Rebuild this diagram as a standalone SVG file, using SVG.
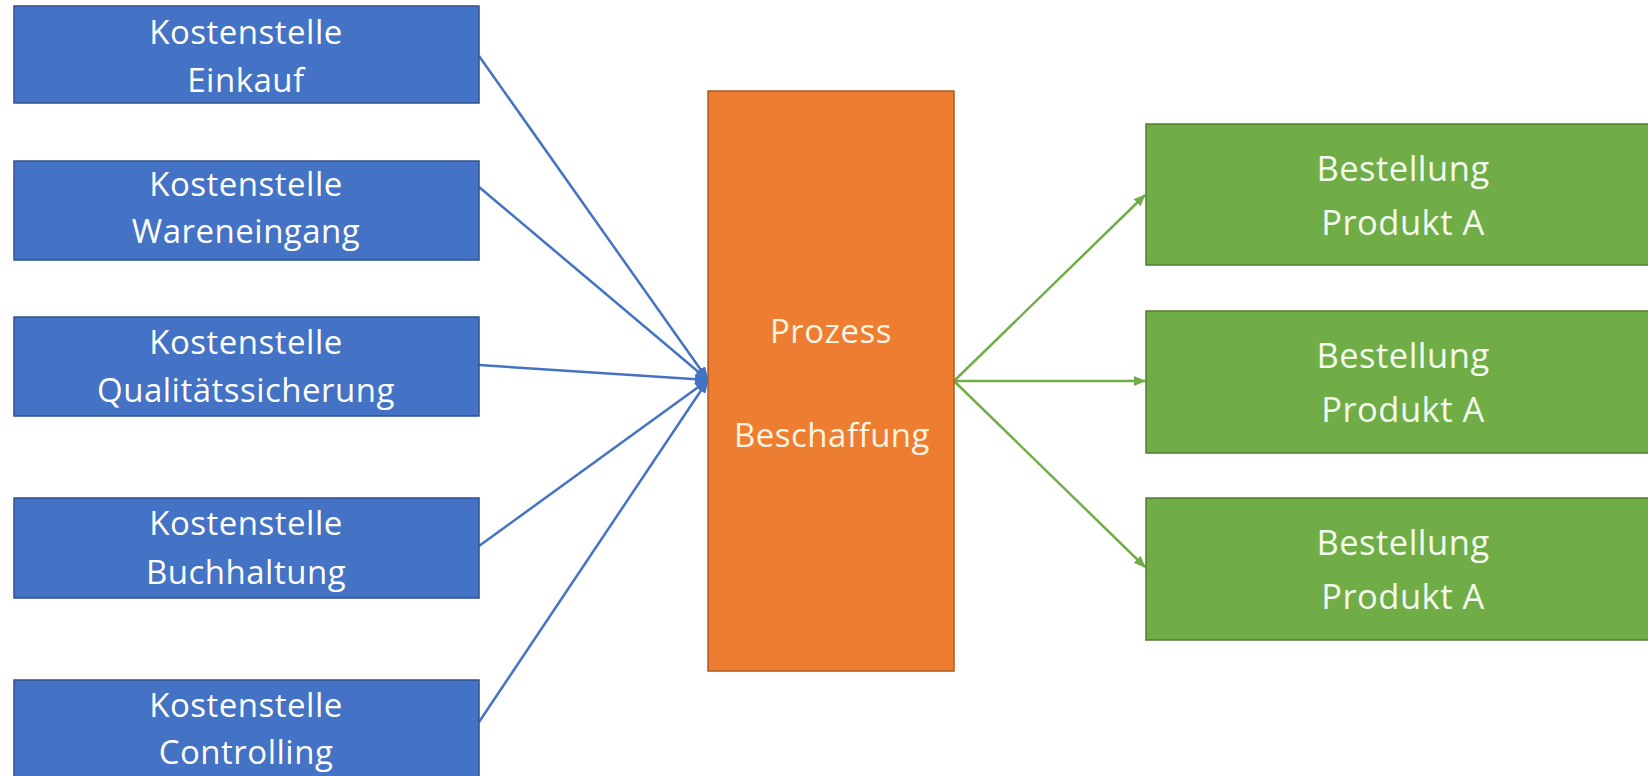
<svg xmlns="http://www.w3.org/2000/svg" width="1648" height="776" viewBox="0 0 1648 776">
  <defs>
    <marker id="arrBlue" viewBox="0 0 14 11" refX="13" refY="5.5" markerWidth="14" markerHeight="11" markerUnits="userSpaceOnUse" orient="auto">
      <path d="M0,0 L14,5.5 L0,11 Z" fill="#4472C4"/>
    </marker>
    <marker id="arrGreen" viewBox="0 0 12 10" refX="11" refY="5" markerWidth="12" markerHeight="10" markerUnits="userSpaceOnUse" orient="auto">
      <path d="M0,0 L12,5 L0,10 Z" fill="#70AD47"/>
    </marker>
  </defs>
  <style>
    .blue { fill: #4472C4; stroke: #2F528F; stroke-width: 1.5; }
    .orange { fill: #ED7D31; stroke: #AE5A21; stroke-width: 1.5; }
    .green { fill: #70AD47; stroke: #507E32; stroke-width: 1.5; }
    .t { font-family: "Open Sans", "Noto Sans", "Liberation Sans", sans-serif; font-size: 33px; letter-spacing: 0.5px; text-anchor: middle; }
    .tg { font-size: 34.5px; fill: #F3FBEE; }
    .tb { fill: #FFFFFF; }
    .to { fill: #FFF3E2; }
    .cb { stroke: #4472C4; stroke-width: 2.5; fill: none; marker-end: url(#arrBlue); }
    .cg { stroke: #70AD47; stroke-width: 2.5; fill: none; marker-end: url(#arrGreen); }
  </style>
  <rect x="0" y="0" width="1648" height="776" fill="#FFFFFF"/>

  <g id="connectors">
    <path class="cb" d="M479,56 L708,380"/>
    <path class="cb" d="M479,187 L708,380"/>
    <path class="cb" d="M479,365 L708,380"/>
    <path class="cb" d="M479,546 L708,380"/>
    <path class="cb" d="M479,722 L708,380"/>
    <path class="cg" d="M954,381 L1145,195"/>
    <path class="cg" d="M954,381 L1145,381"/>
    <path class="cg" d="M954,381 L1145,567"/>
  </g>

  <g id="ks-einkauf">
    <rect class="blue" x="14" y="6" width="465" height="97"/>
    <text class="t tb" x="246" y="44">Kostenstelle</text>
    <text class="t tb" x="246" y="92">Einkauf</text>
  </g>
  <g id="ks-wareneingang">
    <rect class="blue" x="14" y="161" width="465" height="99"/>
    <text class="t tb" x="246" y="196">Kostenstelle</text>
    <text class="t tb" x="246" y="243">Wareneingang</text>
  </g>
  <g id="ks-qualitaet">
    <rect class="blue" x="14" y="317" width="465" height="99"/>
    <text class="t tb" x="246" y="354">Kostenstelle</text>
    <text class="t tb" x="246" y="402">Qualitätssicherung</text>
  </g>
  <g id="ks-buchhaltung">
    <rect class="blue" x="14" y="498" width="465" height="100"/>
    <text class="t tb" x="246" y="535">Kostenstelle</text>
    <text class="t tb" x="246" y="584">Buchhaltung</text>
  </g>
  <g id="ks-controlling">
    <rect class="blue" x="14" y="680" width="465" height="100"/>
    <text class="t tb" x="246" y="717">Kostenstelle</text>
    <text class="t tb" x="246" y="764">Controlling</text>
  </g>

  <g id="prozess-beschaffung">
    <rect class="orange" x="708" y="91" width="246" height="580"/>
    <text class="t to" x="831" y="343">Prozess</text>
    <text class="t to" x="832" y="447">Beschaffung</text>
  </g>

  <g id="bestellung-1">
    <rect class="green" x="1146" y="124" width="510" height="141"/>
    <text class="t tg" x="1403" y="181">Bestellung</text>
    <text class="t tg" x="1403" y="235">Produkt A</text>
  </g>
  <g id="bestellung-2">
    <rect class="green" x="1146" y="311" width="510" height="142"/>
    <text class="t tg" x="1403" y="368">Bestellung</text>
    <text class="t tg" x="1403" y="422">Produkt A</text>
  </g>
  <g id="bestellung-3">
    <rect class="green" x="1146" y="498" width="510" height="142"/>
    <text class="t tg" x="1403" y="555">Bestellung</text>
    <text class="t tg" x="1403" y="609">Produkt A</text>
  </g>
</svg>
